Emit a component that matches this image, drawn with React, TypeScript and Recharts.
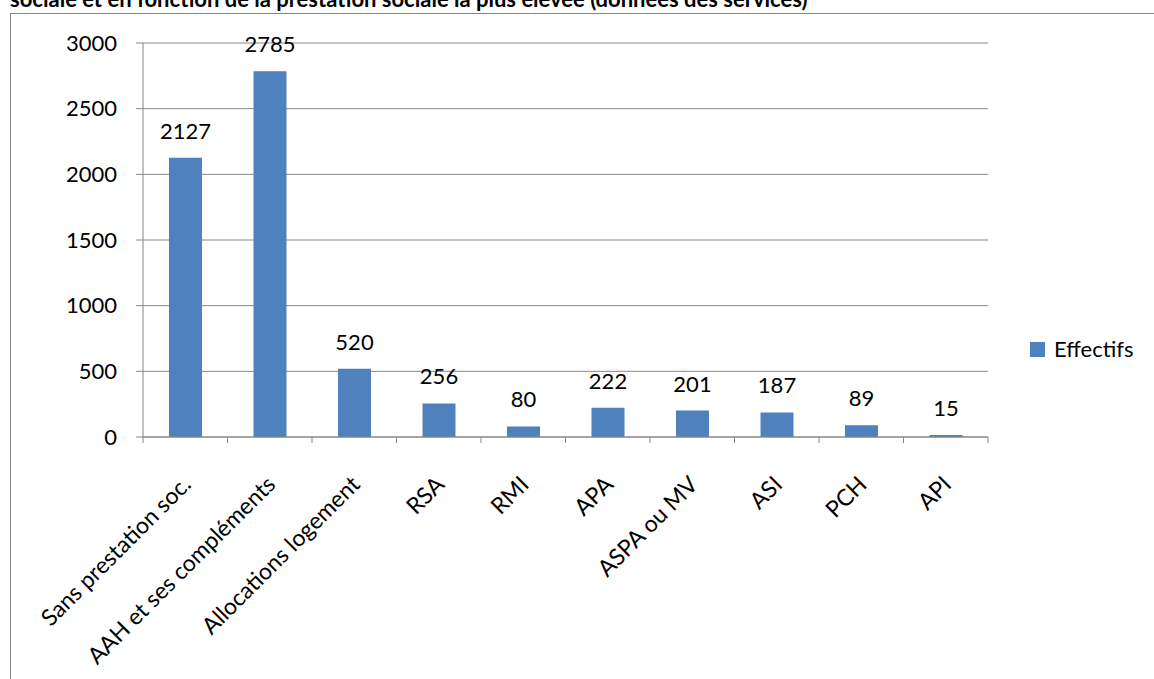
import React from "react";
import { BarChart, Bar, XAxis, YAxis, CartesianGrid, LabelList } from "recharts";

const categories = [
  "Sans prestation soc.",
  "AAH et ses compléments",
  "Allocations logement",
  "RSA",
  "RMI",
  "APA",
  "ASPA ou MV",
  "ASI",
  "PCH",
  "API",
];
const effectifs = [2127, 2785, 520, 256, 80, 222, 201, 187, 89, 15];
const yTicks = [0, 500, 1000, 1500, 2000, 2500, 3000];

const data = categories.map((name, i) => ({ name, effectifs: effectifs[i] }));

const FONT = "Lato, 'Open Sans', sans-serif";
const BLUE = "#4F81BD";
const GRID = "#868686";
const BAND = 84.5;

function CategoryTick(props: any) {
  const { x, y, payload, index } = props;
  const last = index === categories.length - 1;
  return (
    <g>
      <line x1={x - BAND / 2} y1={y - 8} x2={x - BAND / 2} y2={y - 2} stroke={GRID} />
      {last && <line x1={x + BAND / 2} y1={y - 8} x2={x + BAND / 2} y2={y - 2} stroke={GRID} />}
      <text
        x={0}
        y={0}
        transform={`translate(${x + 7},${y + 41}) rotate(-45)`}
        textAnchor="end"
        fontSize={23}
        fontFamily={FONT}
        fill="#000"
      >
        {payload.value}
      </text>
    </g>
  );
}

export default function App() {
  return (
    <div style={{ position: "absolute", left: 0, top: 0, width: 1154, height: 679, background: "#fff", overflow: "hidden" }}>
      <svg width={1154} height={679} style={{ position: "absolute", left: 0, top: 0 }}>
        <text x={10} y={7} fontFamily={FONT} fontWeight={700} fontSize={22} fill="#000">
          sociale et en fonction de la prestation sociale la plus élevée (données des services)
        </text>
        <rect x={10.5} y={13.5} width={1300} height={800} fill="none" stroke="#888" />
      </svg>
      <div style={{ position: "absolute", left: 0, top: 0 }}>
        <BarChart width={1154} height={679} data={data} margin={{ top: 43, right: 166, bottom: 0, left: 0 }}>
          <CartesianGrid vertical={false} stroke={GRID} />
          <XAxis
            dataKey="name"
            interval={0}
            height={242}
            axisLine={{ stroke: GRID }}
            tickLine={false}
            tick={<CategoryTick />}
          />
          <YAxis
            width={143}
            domain={[0, 3000]}
            ticks={yTicks}
            axisLine={{ stroke: GRID }}
            tickLine={{ stroke: GRID }}
            tickSize={7}
            tickMargin={19}
            tick={{ fontSize: 22, fontFamily: FONT, fill: "#000" }}
          />
          <Bar dataKey="effectifs" fill={BLUE} barSize={33} isAnimationActive={false}>
            <LabelList dataKey="effectifs" position="top" offset={19} fontSize={22} fontFamily={FONT} fill="#000" />
          </Bar>
        </BarChart>
      </div>
      <div
        style={{
          position: "absolute",
          left: 1030,
          top: 336,
          display: "flex",
          alignItems: "center",
          fontFamily: FONT,
          fontSize: 22,
          color: "#000",
          lineHeight: "26px",
        }}
      >
        <span style={{ width: 15, height: 15, background: BLUE, display: "inline-block", marginRight: 9 }} />
        Effectifs
      </div>
    </div>
  );
}
